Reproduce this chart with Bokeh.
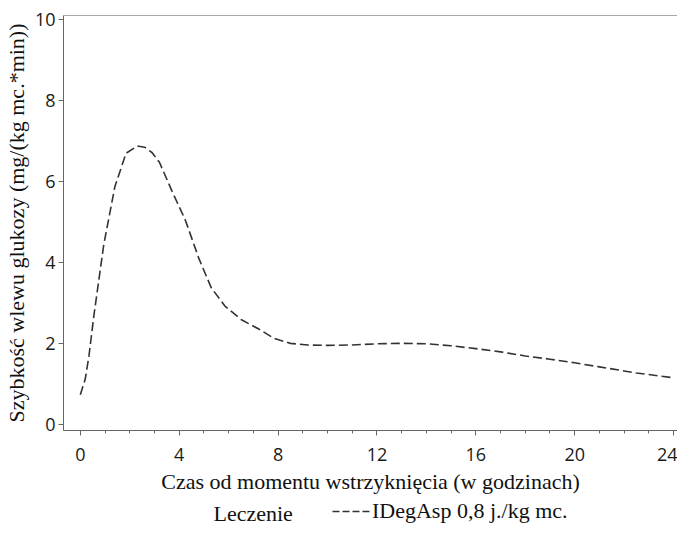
from bokeh.plotting import figure
from bokeh.layouts import column
from bokeh.models import Range1d, FixedTicker, Legend, LegendItem, Label, Span
from bokeh.embed import file_html
from bokeh.resources import INLINE

# Data
hours = [0, 0.2, 0.35, 0.55, 0.95, 1.4, 1.85, 2.3, 2.6, 2.9, 3.2, 3.7, 4.25, 4.8,
         5.3, 5.85, 6.5, 7.2, 7.85, 8.5, 9.2, 10, 11, 12, 13, 14, 15, 16, 17, 18,
         19, 20, 21, 22, 22.5, 23, 24]
gir = [0.74, 1.13, 1.7, 2.7, 4.45, 5.88, 6.7, 6.88, 6.85, 6.72, 6.48, 5.78, 5.05,
       4.1, 3.38, 2.93, 2.6, 2.37, 2.13, 2.01, 1.97, 1.96, 1.97, 2.0, 2.01, 2.0,
       1.95, 1.88, 1.8, 1.7, 1.62, 1.53, 1.43, 1.33, 1.28, 1.24, 1.16]
x_ticks = [0, 4, 8, 12, 16, 20, 24]
x_minor = list(range(0, 25))
y_ticks = [0, 2, 4, 6, 8, 10]
series_name = "IDegAsp 0,8 j./kg mc."
legend_title = "Leczenie"
x_title = "Czas od momentu wstrzyknięcia (w godzinach)"
y_title = "Szybkość wlewu glukozy (mg/(kg mc.*min))"

SERIF = "Liberation Serif"
SANS = "Open Sans"
LINE_COLOR = "#333333"
LINE_DASH = "9 4"

y_top = 10.1
p = figure(width=677, height=499, output_backend="svg", toolbar_location=None,
           x_range=Range1d(-0.68, 24.16), y_range=Range1d(-0.14, y_top),
           min_border_left=55, min_border_top=15, min_border_right=0,
           min_border_bottom=69)
p.background_fill_color = "white"
p.border_fill_color = "white"
p.outline_line_color = None
p.grid.visible = False
p.add_layout(Span(location=y_top, dimension="width", line_color="#555555",
                  line_width=1))

r = p.line(hours, gir, line_color=LINE_COLOR, line_width=1.6, line_dash=LINE_DASH)

for ax in (p.xaxis[0], p.yaxis[0]):
    ax.axis_line_color = "#666666"
    ax.major_tick_line_color = "#666666"
    ax.minor_tick_line_color = "#666666"
    ax.major_label_text_font = SANS
    ax.major_label_text_font_size = "18px"
    ax.major_label_text_color = "#1a1a1a"
    ax.axis_label_text_font = SERIF
    ax.axis_label_text_font_size = "22px"
    ax.axis_label_text_font_style = "normal"
    ax.axis_label_text_color = "#111111"
    ax.major_tick_in = 0
    ax.major_tick_out = 5

p.xaxis.ticker = FixedTicker(ticks=x_ticks, minor_ticks=x_minor)
p.xaxis.minor_tick_in = 0
p.xaxis.minor_tick_out = 3
p.xaxis.axis_label = x_title
p.xaxis.major_label_standoff = 12
p.xaxis.axis_label_standoff = 5

p.yaxis.ticker = FixedTicker(ticks=y_ticks)
p.yaxis.minor_tick_line_color = None
p.yaxis.axis_label = y_title
p.yaxis.major_label_standoff = 3
p.yaxis.axis_label_standoff = 3

# legend strip below the chart (its frame is aligned with the chart's frame)
lg = figure(width=677, height=27, output_backend="svg", toolbar_location=None,
            x_range=Range1d(100, 101), y_range=Range1d(100, 101),
            min_border=0, min_border_left=0, min_border_right=0,
            min_border_top=0, min_border_bottom=0)
lg.axis.visible = False
lg.grid.visible = False
lg.outline_line_color = None
lg.background_fill_color = "white"
lg.border_fill_color = "white"
lr = lg.line(hours, gir, line_color=LINE_COLOR, line_width=1.6, line_dash="7 3")
legend = Legend(items=[LegendItem(label=series_name, renderers=[lr])],
                location=(269, 2), orientation="horizontal",
                border_line_color=None, background_fill_alpha=0,
                label_text_font=SERIF, label_text_font_size="22px",
                label_text_color="#111111", glyph_width=38, glyph_height=22,
                label_standoff=2, padding=0, margin=0, spacing=0,
                label_height=22)
lg.add_layout(legend, "center")
lg.add_layout(Label(x=150, y=13, x_units="screen", y_units="screen",
                    text=legend_title, text_font=SERIF, text_font_size="22px",
                    text_color="#111111", text_baseline="middle"))

layout = column(p, lg, spacing=0)
open("out.html", "w").write(file_html(layout, INLINE))
